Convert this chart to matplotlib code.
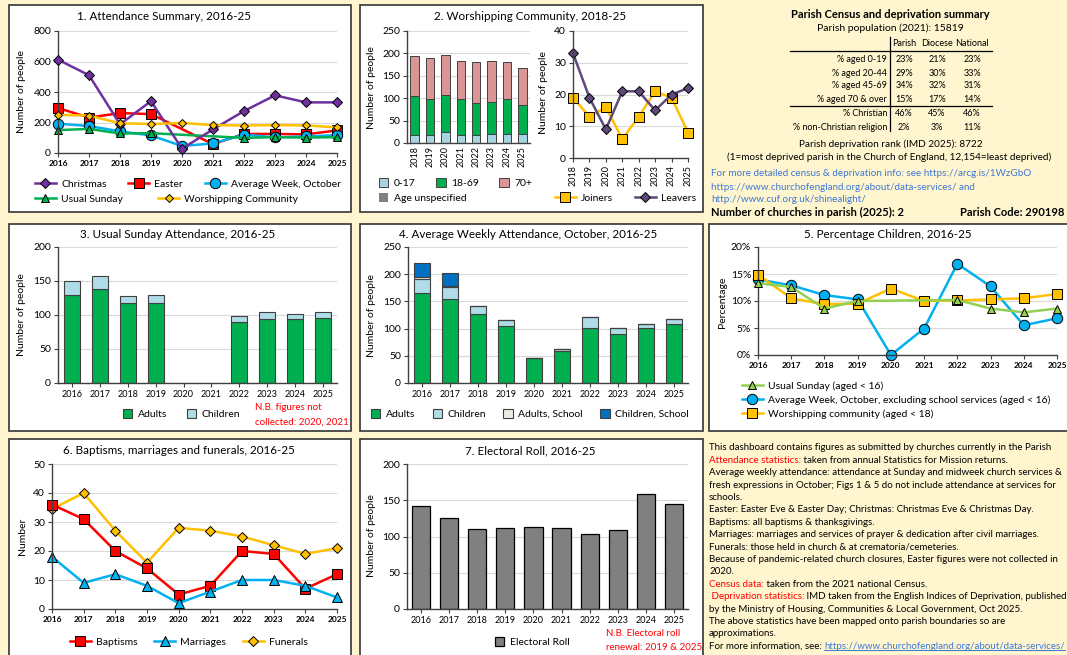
import numpy as np
import matplotlib
matplotlib.use('Agg')
import matplotlib.pyplot as plt
from matplotlib.patches import Rectangle
from matplotlib.ticker import PercentFormatter

plt.rcParams['font.family'] = ['Lato', 'DejaVu Sans']

nan = np.nan

# ---- data ----
years = [2016, 2017, 2018, 2019, 2020, 2021, 2022, 2023, 2024, 2025]
years_wc = [2018, 2019, 2020, 2021, 2022, 2023, 2024, 2025]

# 1. attendance summary
christmas = [612, 510, 188, 340, 28, 155, 275, 378, 332, 332]
easter = [295, 232, 262, 255, nan, 58, 125, 125, 122, 148]
avg_week = [192, 177, 142, 115, 46, 63, 121, 102, 109, 117]
usual_sunday = [150, 158, 128, 130, nan, nan, 99, 104, 101, 104]
worship_comm = [250, 245, 195, 190, 197, 183, 180, 183, 181, 168]

# 2. worshipping community
age_0_17 = [17, 17, 24, 17, 17, 19, 19, 19]
age_18_69 = [89, 81, 84, 81, 72, 72, 79, 65]
age_70_plus = [89, 92, 89, 85, 91, 92, 83, 84]
age_unspec = [0, 0, 0, 0, 0, 0, 0, 0]
joiners = [19, 13, 16, 6, 13, 21, 19, 8]
leavers = [33, 19, 9, 21, 21, 15, 20, 22]

# 3. usual sunday
us_adults = [129, 138, 117, 117, nan, nan, 89, 94, 94, 95]
us_children = [21, 20, 11, 13, nan, nan, 10, 10, 7, 9]

# 4. average weekly, october
aw_adults = [165, 154, 126, 104, 46, 59, 102, 90, 102, 109]
aw_children = [27, 23, 16, 11, 0, 4, 19, 12, 7, 8]
aw_adults_school = [2, 2, 0, 0, 0, 0, 0, 0, 0, 0]
aw_children_school = [26, 24, 0, 0, 0, 0, 0, 0, 0, 0]

# 5. percentage children
pc_usual = [13.3, 12.6, 8.6, 10.0, nan, nan, 10.2, 8.6, 7.9, 8.6]
pc_avgweek = [14.0, 12.9, 11.1, 10.3, 0.0, 4.9, 16.9, 12.7, 5.5, 6.8]
pc_worship = [14.9, 10.5, 9.4, 9.5, 12.3, 10.0, 10.1, 10.3, 10.5, 11.3]

# 6. occasional offices
baptisms = [36, 31, 20, 14, 5, 8, 20, 19, 7, 12]
marriages = [18, 9, 12, 8, 2, 6, 10, 10, 8, 4]
funerals = [34.5, 40, 27, 16, 28, 27, 25, 22, 19, 21]

# 7. electoral roll
electoral = [142, 126, 110, 112, 113, 112, 103, 109, 158, 145]

# census table
census_rows = ['% aged 0-19', '% aged 20-44', '% aged 45-69', '% aged 70 & over',
               '% Christian', '% non-Christian religion']
census_parish = ['23%', '29%', '34%', '15%', '46%', '2%']
census_diocese = ['21%', '30%', '32%', '17%', '45%', '3%']
census_national = ['23%', '33%', '31%', '14%', '46%', '11%']

BG = '#FFF5CE'
RED = '#FF0000'
GREEN = '#00B050'
CYAN = '#00B0F0'
YEL = '#FFC000'
LBLUE = '#B0DCE8'
EDGE = '#404040'
LINK = '#3C78D8'

W, H = 1067, 655
fig = plt.figure(figsize=(W / 100, H / 100), dpi=100)
fig.patch.set_facecolor(BG)

# overlay axes in pixel coordinates for boxes and free text
ov = fig.add_axes([0, 0, 1, 1])
ov.set_xlim(0, W)
ov.set_ylim(H, 0)
ov.axis('off')


def panel(x0, y0, x1, y1):
    ov.add_patch(Rectangle((x0, y0), x1 - x0, y1 - y0, fc='white', ec='#333333', lw=1.2))


def new_ax(x0, y0, x1, y1):
    ax = fig.add_axes([x0 / W, 1 - y1 / H, (x1 - x0) / W, (y1 - y0) / H])
    ax.set_facecolor('none')
    for s in ['top', 'right']:
        ax.spines[s].set_visible(False)
    for s in ['left', 'bottom']:
        ax.spines[s].set_color(EDGE)
        ax.spines[s].set_linewidth(1)
    ax.grid(axis='y', color='#d9d9d9', lw=0.8)
    ax.set_axisbelow(True)
    ax.tick_params(labelsize=7.5, length=3, color=EDGE, pad=2)
    return ax


def txt(x, y, s, size=7.5, **kw):
    kw.setdefault('va', 'center')
    return ov.text(x, y, s, fontsize=size, **kw)


def leg(handles, labels, x, y, ncol, **kw):
    opts = dict(loc='center left', bbox_to_anchor=(x / W, 1 - y / H), bbox_transform=fig.transFigure,
                frameon=False, fontsize=7.5, ncol=ncol, borderpad=0, borderaxespad=0,
                handletextpad=0.5, columnspacing=2.0)
    opts.update(kw)
    fig.legend(handles, labels, **opts)


def line(ax, x, y, color, marker, ms, label, mfc=None):
    x = np.array(x, dtype=float)
    y = np.array(y, dtype=float)
    ok = ~np.isnan(y)
    h, = ax.plot(x[ok], y[ok], color=color, lw=1.8, marker=marker, ms=ms,
                 mfc=mfc or color, mec='black', mew=0.7, clip_on=False, label=label)
    return h


def year_axis(ax, xs, bold=True):
    ax.set_xlim(xs[0], xs[-1])
    ax.set_xticks(xs)
    ax.set_xticklabels([str(v) for v in xs], fontsize=6, fontweight='bold' if bold else 'normal')


for b in [(9, 5, 351, 212), (360, 5, 703, 212), (9, 224, 351, 431), (360, 224, 703, 431),
          (709, 224, 1075, 431), (9, 439, 351, 665), (360, 439, 703, 665)]:
    panel(*b)

# ---- 1. Attendance summary ----
ax1 = new_ax(58, 31, 337, 153)
h_ch = line(ax1, years, christmas, '#7030A0', 'D', 5.5, 'Christmas')
h_ea = line(ax1, years, easter, RED, 's', 7, 'Easter')
h_aw = line(ax1, years, avg_week, CYAN, 'o', 7.5, 'Average Week, October')
h_us = line(ax1, years, usual_sunday, GREEN, '^', 6, 'Usual Sunday')
h_wc = line(ax1, years, worship_comm, YEL, 'D', 4.5, 'Worshipping Community')
for h in [h_ch, h_wc]:
    h.set_zorder(3)
ax1.set_ylim(0, 800)
ax1.set_yticks(range(0, 801, 200))
year_axis(ax1, years)
txt(164, 17, '1. Attendance Summary, 2016-25', 8.4, ha='center')
txt(22, 92, 'Number of people', 7.5, ha='center', rotation=90)
leg([h_ch, h_ea, h_aw], ['Christmas', 'Easter', 'Average Week, October'], 35, 184, 3,
    columnspacing=2.1)
leg([h_us, h_wc], ['Usual Sunday', 'Worshipping Community'], 35, 199, 2, columnspacing=3.4)

# ---- 2. Worshipping community ----
ax2 = new_ax(407, 31, 530, 143)
xw = np.arange(len(years_wc))
bw = 0.56
b0 = ax2.bar(xw, age_0_17, bw, color='#A5D5E3', ec=EDGE, lw=0.7)
b1 = ax2.bar(xw, age_18_69, bw, bottom=age_0_17, color=GREEN, ec=EDGE, lw=0.7)
bot2 = np.array(age_0_17) + np.array(age_18_69)
b2 = ax2.bar(xw, age_70_plus, bw, bottom=bot2, color='#DA9694', ec=EDGE, lw=0.7)
b3 = ax2.bar(xw, age_unspec, bw, bottom=bot2 + np.array(age_70_plus), color='#808080', ec=EDGE, lw=0)
ax2.set_xlim(-0.5, len(years_wc) - 0.5)
ax2.set_ylim(0, 250)
ax2.set_yticks(range(0, 251, 50))
ax2.set_xticks(xw)
ax2.set_xticklabels([str(v) for v in years_wc], rotation=90, fontsize=6.5)
ax2.tick_params(axis='x', length=0)

ax2b = new_ax(573, 31, 688, 158)
h_jo = line(ax2b, years_wc, joiners, YEL, 's', 7, 'Joiners')
h_le = line(ax2b, years_wc, leavers, '#5F497A', 'D', 5.5, 'Leavers')
ax2b.set_ylim(0, 40)
ax2b.set_yticks(range(0, 41, 10))
ax2b.set_xlim(2018, 2025)
ax2b.set_xticks(years_wc)
ax2b.set_xticklabels([str(v) for v in years_wc], rotation=90, fontsize=6.5)

txt(530, 17, '2. Worshipping Community, 2018-25', 8.4, ha='center')
txt(372, 88, 'Number of people', 7.5, ha='center', rotation=90)
txt(543, 93, 'Number of people', 7.5, ha='center', rotation=90)
leg([b0, b1, b2], ['0-17', '18-69', '70+'], 379, 183, 3, handlelength=0.9, handleheight=0.9,
    columnspacing=2.0)
leg([b3], ['Age unspecified'], 379, 198, 1, handlelength=0.9, handleheight=0.9)
leg([h_jo, h_le], ['Joiners', 'Leavers'], 555, 198, 2, columnspacing=2.1)

# ---- 3. Usual Sunday ----
ax3 = new_ax(58, 247, 337, 383)
xy = np.arange(len(years))
bw = 0.58
ua = np.array(us_adults, dtype=float)
uc = np.array(us_children, dtype=float)
ok = ~np.isnan(ua)
b_ua = ax3.bar(xy[ok], ua[ok], bw, color=GREEN, ec=EDGE, lw=0.8)
b_uc = ax3.bar(xy[ok], uc[ok], bw, bottom=ua[ok], color=LBLUE, ec=EDGE, lw=0.8)
ax3.set_xlim(-0.5, 9.5)
ax3.set_ylim(0, 200)
ax3.set_yticks(range(0, 201, 50))
ax3.set_xticks(xy)
ax3.set_xticklabels([str(v) for v in years], fontsize=6.5)
txt(178, 235, '3. Usual Sunday Attendance, 2016-25', 8.4, ha='center')
txt(22, 315, 'Number of people', 7.5, ha='center', rotation=90)
leg([b_ua, b_uc], ['Adults', 'Children'], 123, 414, 2, handlelength=0.9, handleheight=0.9,
    columnspacing=1.9)
txt(255, 408, 'N.B. figures not', 7, color=RED)
txt(255, 422, 'collected: 2020, 2021', 7, color=RED)

# ---- 4. Average weekly attendance ----
ax4 = new_ax(408, 247, 688, 383)
a1 = np.array(aw_adults)
a2 = a1 + np.array(aw_children)
a3 = a2 + np.array(aw_adults_school)
b_aa = ax4.bar(xy, aw_adults, bw, color=GREEN, ec=EDGE, lw=0.8)
b_ac = ax4.bar(xy, aw_children, bw, bottom=a1, color=LBLUE, ec=EDGE, lw=0.8)
b_as = ax4.bar(xy, aw_adults_school, bw, bottom=a2, color='#EEECE1', ec=EDGE, lw=0.8)
b_cs = ax4.bar(xy, aw_children_school, bw, bottom=a3, color='#0070C0', ec=EDGE, lw=0.8)
ax4.set_xlim(-0.5, 9.5)
ax4.set_ylim(0, 250)
ax4.set_yticks(range(0, 251, 50))
ax4.set_xticks(xy)
ax4.set_xticklabels([str(v) for v in years], fontsize=6.5)
txt(528, 235, '4. Average Weekly Attendance, October, 2016-25', 8.4, ha='center')
txt(372, 316, 'Number of people', 7.5, ha='center', rotation=90)
leg([b_aa, b_ac, b_as, b_cs], ['Adults', 'Children', 'Adults, School', 'Children, School'],
    371, 414, 4, handlelength=0.9, handleheight=0.9, columnspacing=1.7)

# ---- 5. Percentage children ----
ax5 = new_ax(758, 247, 1057, 355)
h_pu = line(ax5, years, pc_usual, '#92D050', '^', 6, 'Usual Sunday (aged < 16)')
h_pa = line(ax5, years, pc_avgweek, CYAN, 'o', 7.5, 'Average Week, October, excluding school services (aged < 16)')
h_pw = line(ax5, years, pc_worship, YEL, 's', 7, 'Worshipping community (aged < 18)')
h_pu.set_zorder(3)
ax5.set_ylim(0, 20)
ax5.set_yticks(range(0, 21, 5))
ax5.yaxis.set_major_formatter(PercentFormatter(decimals=0))
year_axis(ax5, years)
txt(888, 235, '5. Percentage Children, 2016-25', 8.4, ha='center')
txt(722, 302, 'Percentage', 7.5, ha='center', rotation=90)
leg([h_pu, h_pa, h_pw], [h_pu.get_label(), h_pa.get_label(), h_pw.get_label()],
    742, 400, 1, labelspacing=0.45)

# ---- 6. Baptisms, marriages, funerals ----
ax6 = new_ax(52, 464, 337, 609)
h_fu = line(ax6, years, funerals, YEL, 'D', 5.5, 'Funerals')
h_ba = line(ax6, years, baptisms, RED, 's', 7, 'Baptisms')
h_ma = line(ax6, years, marriages, CYAN, '^', 6.5, 'Marriages')
ax6.set_ylim(0, 50)
ax6.set_yticks(range(0, 51, 10))
year_axis(ax6, years)
txt(179, 451, '6. Baptisms, marriages and funerals, 2016-25', 8.4, ha='center')
txt(22, 536, 'Number', 7.5, ha='center', rotation=90)
leg([h_ba, h_ma, h_fu], ['Baptisms', 'Marriages', 'Funerals'], 70, 642, 3, columnspacing=1.6)

# ---- 7. Electoral roll ----
ax7 = new_ax(407, 464, 688, 609)
b_er = ax7.bar(xy, electoral, 0.65, color='#808080', ec='black', lw=0.9)
ax7.set_xlim(-0.5, 9.5)
ax7.set_ylim(0, 200)
ax7.set_yticks(range(0, 201, 50))
ax7.set_xticks(xy)
ax7.set_xticklabels([str(v) for v in years], fontsize=6.5)
txt(530, 451, '7. Electoral Roll, 2016-25', 8.4, ha='center')
txt(372, 536, 'Number of people', 7.5, ha='center', rotation=90)
leg([b_er], ['Electoral Roll'], 495, 642, 1, handlelength=0.9, handleheight=0.9)
txt(606, 634, 'N.B. Electoral roll', 7, color=RED)
txt(606, 647, 'renewal: 2019 & 2025', 7, color=RED)

# ---- census summary ----
txt(890, 15, 'Parish Census and deprivation summary', 8, ha='center', fontweight='bold')
txt(890, 28, 'Parish population (2021): 15819', 7.5, ha='center')
col_x = [904, 937, 972]
for cx, head in zip(col_x, ['Parish', 'Diocese', 'National']):
    txt(cx, 44, head, 6.5, ha='center')
row_y = [60, 73, 86, 100, 113, 127]
for ry, lab, p, d, n in zip(row_y, census_rows, census_parish, census_diocese, census_national):
    txt(887, ry, lab, 6.5, ha='right')
    for cx, v in zip(col_x, [p, d, n]):
        txt(cx, ry, v, 6.5, ha='center')
ov.plot([790, 992], [51, 51], color='black', lw=0.9)
ov.plot([790, 992], [106, 106], color='black', lw=0.9)
ov.plot([890, 890], [37, 131], color='black', lw=0.9)
txt(891, 144, 'Parish deprivation rank (IMD 2025): 8722', 7.2, ha='center')
txt(889, 157, '(1=most deprived parish in the Church of England, 12,154=least deprived)', 7.2, ha='center')
txt(711, 173, 'For more detailed census & deprivation info: see https://arcg.is/1WzGbO', 7.1, color=LINK)
txt(711, 187, 'https://www.churchofengland.org/about/data-services/ and', 7.1, color=LINK)
txt(711, 200, 'http://www.cuf.org.uk/shinealight/', 7.1, color=LINK)
txt(711, 212, 'Number of churches in parish (2025): 2', 8, fontweight='bold')
txt(1064, 212, 'Parish Code: 290198', 8, fontweight='bold', ha='right')

# ---- notes block ----
notes = [
    [('This dashboard contains figures as submitted by churches currently in the Parish', 'black')],
    [('Attendance statistics:', RED), (' taken from annual Statistics for Mission returns.', 'black')],
    [('Average weekly attendance: attendance at Sunday and midweek church services &', 'black')],
    [('fresh expressions in October; Figs 1 & 5 do not include attendance at services for', 'black')],
    [('schools.', 'black')],
    [('Easter: Easter Eve & Easter Day; Christmas: Christmas Eve & Christmas Day.', 'black')],
    [('Baptisms: all baptisms & thanksgivings.', 'black')],
    [('Marriages: marriages and services of prayer & dedication after civil marriages.', 'black')],
    [('Funerals: those held in church & at crematoria/cemeteries.', 'black')],
    [('Because of pandemic-related church closures, Easter figures were not collected in', 'black')],
    [('2020.', 'black')],
    [('Census data:', RED), (' taken from the 2021 national Census.', 'black')],
    [(' Deprivation statistics:', RED), (' IMD taken from the English Indices of Deprivation, published', 'black')],
    [('by the Ministry of Housing, Communities & Local Government, Oct 2025.', 'black')],
    [('The above statistics have been mapped onto parish boundaries so are', 'black')],
    [('approximations.', 'black')],
    [('For more information, see: ', 'black'), ('https://www.churchofengland.org/about/data-services/', LINK)],
]
NS = 7.0
for i, parts in enumerate(notes):
    y = 448 + i * 12.4
    t = txt(709, y, parts[0][0], NS, color=parts[0][1])
    for s, c in parts[1:]:
        t = ov.annotate(s, xy=(1, 0.5), xycoords=t, va='center', fontsize=NS, color=c)

# underline the final link
r = fig.canvas.get_renderer()
bb = t.get_window_extent(r)
inv = ov.transData.inverted()
(ux0, uy), (ux1, _) = inv.transform([(bb.x0, bb.y0 + 1), (bb.x1, bb.y0 + 1)])
ov.plot([ux0, ux1], [uy, uy], color=LINK, lw=0.7)

fig.savefig('out.png', dpi=100, facecolor=BG)
